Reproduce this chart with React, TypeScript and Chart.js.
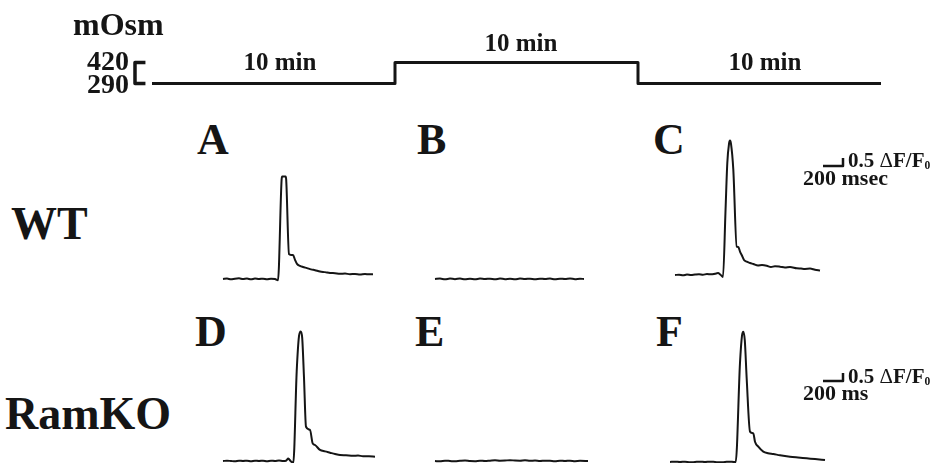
import React, { useEffect, useRef } from "react";
import { Chart, registerables } from "chart.js";

Chart.register(...registerables);

// ---------- DATA ----------
// Osmolarity protocol (minutes, mOsm)
const STEP_TIMES = [0, 10, 20, 30];
const STEP_MOSM = [290, 420, 290];
const MOSM_TICKS = [420, 290];
const PERIOD_LABELS = ["10 min", "10 min", "10 min"];

// Calcium transients: time (ms) and ΔF/F0
const A_T = [0, 40, 80, 120, 160, 200, 240, 280, 320, 360, 400, 440, 480, 520, 550, 586, 592, 626, 632, 660, 680, 700, 720, 740, 770, 800, 840, 880, 920, 970, 1020, 1070, 1120, 1170, 1220, 1270, 1320, 1370, 1420, 1460, 1500];
const A_V = [0, 0.03, -0.02, 0.02, 0.04, 0, 0.03, -0.02, 0.03, 0, 0.02, -0.02, 0.02, 0, -0.08, 6.2, 6.4, 6.4, 6.2, 1.55, 1.5, 1.5, 1.2, 0.95, 0.82, 0.75, 0.68, 0.6, 0.55, 0.47, 0.43, 0.38, 0.36, 0.33, 0.34, 0.3, 0.31, 0.28, 0.31, 0.29, 0.3];

const B_T = [0, 50, 100, 150, 200, 250, 300, 350, 400, 450, 500, 550, 600, 650, 700, 750, 800, 850, 900, 950, 1000, 1050, 1100, 1150, 1200, 1250, 1300, 1350, 1400, 1450, 1490];
const B_V = [0, 0.03, -0.02, 0.03, -0.01, 0.03, -0.02, 0.02, -0.02, 0.03, 0, 0.02, -0.02, 0.03, -0.01, 0.02, -0.02, 0.03, 0, 0.02, -0.02, 0.02, 0, 0.03, -0.02, 0.02, 0, 0.03, -0.01, 0.02, 0];

const C_T = [0, 40, 80, 120, 160, 200, 240, 280, 320, 360, 400, 430, 455, 480, 505, 523, 540, 550, 560, 583, 617, 633, 650, 667, 690, 717, 750, 783, 830, 870, 917, 960, 1000, 1050, 1100, 1150, 1217, 1260, 1300, 1350, 1400, 1450];
const C_V = [0, 0.02, -0.02, 0.03, 0, 0.03, 0.05, 0.02, 0.06, 0.04, 0.08, 0.12, 0.02, -0.12, 4.0, 7.0, 8.2, 8.4, 8.2, 6.6, 1.77, 1.75, 1.46, 1.25, 0.94, 0.83, 0.75, 0.69, 0.6, 0.62, 0.58, 0.5, 0.55, 0.52, 0.47, 0.5, 0.42, 0.4, 0.38, 0.4, 0.33, 0.28];

const D_T = [0, 40, 80, 120, 160, 200, 240, 280, 320, 360, 400, 440, 480, 520, 560, 600, 630, 653, 675, 703, 737, 760, 777, 792, 810, 830, 870, 897, 920, 970, 1020, 1070, 1120, 1170, 1230, 1300, 1350, 1400, 1460, 1520];
const D_V = [0, 0.02, 0, -0.02, 0.02, 0, 0.02, -0.02, 0.02, 0, 0.02, -0.02, 0.02, 0, 0.03, 0, 0.02, 0.15, 0, -0.12, 5.6, 7.8, 8.1, 7.7, 5.2, 2.14, 1.94, 1.1, 1.0, 0.69, 0.6, 0.52, 0.44, 0.375, 0.36, 0.33, 0.34, 0.3, 0.3, 0.27];

const E_T = [0, 50, 100, 150, 200, 250, 300, 350, 400, 450, 500, 550, 600, 650, 700, 750, 800, 850, 900, 950, 1000, 1050, 1100, 1150, 1200, 1250, 1300, 1350, 1400, 1450, 1530];
const E_V = [0, -0.02, 0.02, 0, -0.02, 0.01, 0.03, 0, -0.01, 0.02, 0, 0.02, 0.04, 0.02, 0.03, 0.05, 0.03, 0.02, 0.04, 0.01, 0.03, 0, 0.02, 0.01, -0.01, 0.02, 0, 0.02, -0.01, 0.01, 0];

const F_T = [0, 50, 100, 150, 200, 250, 300, 350, 400, 450, 500, 550, 600, 640, 657, 700, 720, 733, 748, 767, 800, 833, 850, 883, 933, 980, 1033, 1100, 1200, 1280, 1367, 1450, 1550];
const F_V = [0, 0.02, 0, 0.02, -0.02, 0, 0.02, 0, 0.02, 0, -0.02, 0, 0.02, 0, 0, 6.2, 7.9, 8.14, 7.6, 5.2, 1.9, 1.79, 1.27, 0.96, 0.65, 0.55, 0.5, 0.42, 0.33, 0.28, 0.23, 0.18, 0.125];

// Scale bar values
const SCALE_MS = 200;
const SCALE_DFF = 0.5;

// ---------- LAYOUT / STYLE ----------
const INK = "#151515";
const SERIF = '"Liberation Serif", "Times New Roman", "DejaVu Serif", serif';
const MS_PER_PX = 10;
const PX_PER_DFF = 16;
const PX_PER_MIN = (881 - 152) / 30;
const PX_PER_MOSM = 21 / 130;

type Pt = { x: number; y: number };
type DS = { pts: Pt[]; width: number; smooth?: boolean };

function zip(t: number[], v: number[]): Pt[] {
  return t.map((x, i) => ({ x, y: v[i] }));
}

function Panel(props: {
  left: number; top: number; width: number; height: number;
  xMin: number; xMax: number; yMin: number; yMax: number; sets: DS[];
}) {
  const ref = useRef<HTMLCanvasElement>(null);
  const { left, top, width, height, xMin, xMax, yMin, yMax, sets } = props;
  useEffect(() => {
    if (!ref.current) return;
    const chart = new Chart(ref.current, {
      type: "line",
      data: {
        datasets: sets.map((s) => ({
          data: s.pts,
          borderColor: INK,
          borderWidth: s.width,
          pointRadius: 0,
          tension: s.smooth ? 0.4 : 0,
          cubicInterpolationMode: s.smooth ? ("monotone" as const) : ("default" as const),
          fill: false,
          borderJoinStyle: "round" as const,
          borderCapStyle: "butt" as const,
          clip: false as any,
        })),
      },
      options: {
        animation: false,
        responsive: false,
        events: [],
        layout: { padding: 0 },
        plugins: { legend: { display: false }, tooltip: { enabled: false }, title: { display: false } },
        scales: {
          x: { type: "linear", display: false, min: xMin, max: xMax },
          y: { type: "linear", display: false, min: yMin, max: yMax },
        },
      },
    });
    return () => chart.destroy();
  }, []);
  return (
    <canvas
      ref={ref}
      width={width}
      height={height}
      style={{ position: "absolute", left, top, width, height }}
    />
  );
}

// Trace panel positioned so that (t=0, ΔF/F0=0) lands on (originX, originY)
function Trace(props: { t: number[]; v: number[]; originX: number; originY: number; lw?: number; w?: number; h?: number; above?: number }) {
  const w = props.w ?? 178;
  const h = props.h ?? 165;
  const above = props.above ?? 150;
  const left = props.originX - 12;
  const top = props.originY - above;
  const xMin = -(props.originX - left) * MS_PER_PX;
  const xMax = xMin + w * MS_PER_PX;
  const yMin = -(top + h - props.originY) / PX_PER_DFF;
  const yMax = yMin + h / PX_PER_DFF;
  return (
    <Panel left={left} top={top} width={w} height={h} xMin={xMin} xMax={xMax} yMin={yMin} yMax={yMax}
      sets={[{ pts: zip(props.t, props.v), width: props.lw ?? 2, smooth: true }]} />
  );
}

function ScaleBar(props: { originX: number; originY: number }) {
  const left = props.originX - 8;
  const top = props.originY - 16;
  const w = 40, h = 24;
  const xMin = -(props.originX - left) * MS_PER_PX;
  const yMin = -(top + h - props.originY) / PX_PER_DFF;
  return (
    <Panel left={left} top={top} width={w} height={h}
      xMin={xMin} xMax={xMin + w * MS_PER_PX} yMin={yMin} yMax={yMin + h / PX_PER_DFF}
      sets={[{ pts: [{ x: 0, y: 0 }, { x: SCALE_MS, y: 0 }, { x: SCALE_MS, y: SCALE_DFF }], width: 2.5 }]} />
  );
}

function StepPanel() {
  const left = 120, top = 40, w = 790, h = 62;
  const originX = 152, originY = 83.5;
  const xMin = -(originX - left) / PX_PER_MIN;
  const yMin = STEP_MOSM[0] - (top + h - originY) / PX_PER_MOSM;
  const pts: Pt[] = [];
  for (let i = 0; i < STEP_MOSM.length; i++) {
    pts.push({ x: STEP_TIMES[i], y: STEP_MOSM[i] });
    pts.push({ x: STEP_TIMES[i + 1], y: STEP_MOSM[i] });
  }
  const bx0 = -0.7, bx1 = -0.27;
  const bracket: Pt[] = [
    { x: bx1, y: MOSM_TICKS[0] }, { x: bx0, y: MOSM_TICKS[0] },
    { x: bx0, y: MOSM_TICKS[1] }, { x: bx1, y: MOSM_TICKS[1] },
  ];
  return (
    <Panel left={left} top={top} width={w} height={h}
      xMin={xMin} xMax={xMin + w / PX_PER_MIN} yMin={yMin} yMax={yMin + h / PX_PER_MOSM}
      sets={[{ pts, width: 3 }, { pts: bracket, width: 3.5 }]} />
  );
}

function Txt(props: { x: number; base: number; fs: number; center?: boolean; children: React.ReactNode }) {
  const top = props.base - 0.8375 * props.fs;
  return (
    <div
      style={{
        position: "absolute",
        left: props.x,
        top,
        fontSize: props.fs,
        lineHeight: 1,
        fontFamily: SERIF,
        fontWeight: 700,
        color: INK,
        whiteSpace: "nowrap",
        transform: props.center ? "translateX(-50%)" : undefined,
      }}
    >
      {props.children}
    </div>
  );
}

function DffLabel() {
  return (
    <span>
      {SCALE_DFF} <span style={{ fontWeight: 400 }}>Δ</span>F/F<sub style={{ fontSize: "0.55em", verticalAlign: "-0.15em" }}>0</sub>
    </span>
  );
}

export default function App() {
  return (
    <div style={{ position: "absolute", left: 0, top: 0, width: 935, height: 463, background: "#fff", overflow: "hidden" }}>
      <StepPanel />
      <Txt x={73} base={35} fs={32}>mOsm</Txt>
      <Txt x={87} base={70} fs={28}>{MOSM_TICKS[0]}</Txt>
      <Txt x={87} base={93} fs={28}>{MOSM_TICKS[1]}</Txt>
      <Txt x={280} base={70} fs={25} center>{PERIOD_LABELS[0]}</Txt>
      <Txt x={521} base={51} fs={25} center>{PERIOD_LABELS[1]}</Txt>
      <Txt x={765} base={70} fs={25} center>{PERIOD_LABELS[2]}</Txt>

      <Txt x={197} base={155} fs={44}>A</Txt>
      <Txt x={417} base={155} fs={44}>B</Txt>
      <Txt x={653} base={155} fs={44}>C</Txt>
      <Txt x={195} base={347} fs={44}>D</Txt>
      <Txt x={415} base={347} fs={44}>E</Txt>
      <Txt x={656} base={347} fs={44}>F</Txt>

      <Txt x={11} base={240} fs={46}>WT</Txt>
      <Txt x={5} base={430} fs={46}>RamKO</Txt>

      <Trace t={A_T} v={A_V} originX={223} originY={279} />
      <Trace t={B_T} v={B_V} originX={435} originY={279} />
      <Trace t={C_T} v={C_V} originX={675} originY={275} />
      <Trace t={D_T} v={D_V} originX={223} originY={461} above={145} h={158} />
      <Trace t={E_T} v={E_V} originX={435} originY={461} above={145} h={158} />
      <Trace t={F_T} v={F_V} originX={670} originY={462} above={145} h={158} />

      <ScaleBar originX={823} originY={166} />
      <ScaleBar originX={823} originY={381} />
      <Txt x={848} base={168} fs={21}><DffLabel /></Txt>
      <Txt x={803} base={185} fs={22}>200 msec</Txt>
      <Txt x={848} base={384} fs={21}><DffLabel /></Txt>
      <Txt x={803} base={400} fs={22}>200 ms</Txt>
    </div>
  );
}
